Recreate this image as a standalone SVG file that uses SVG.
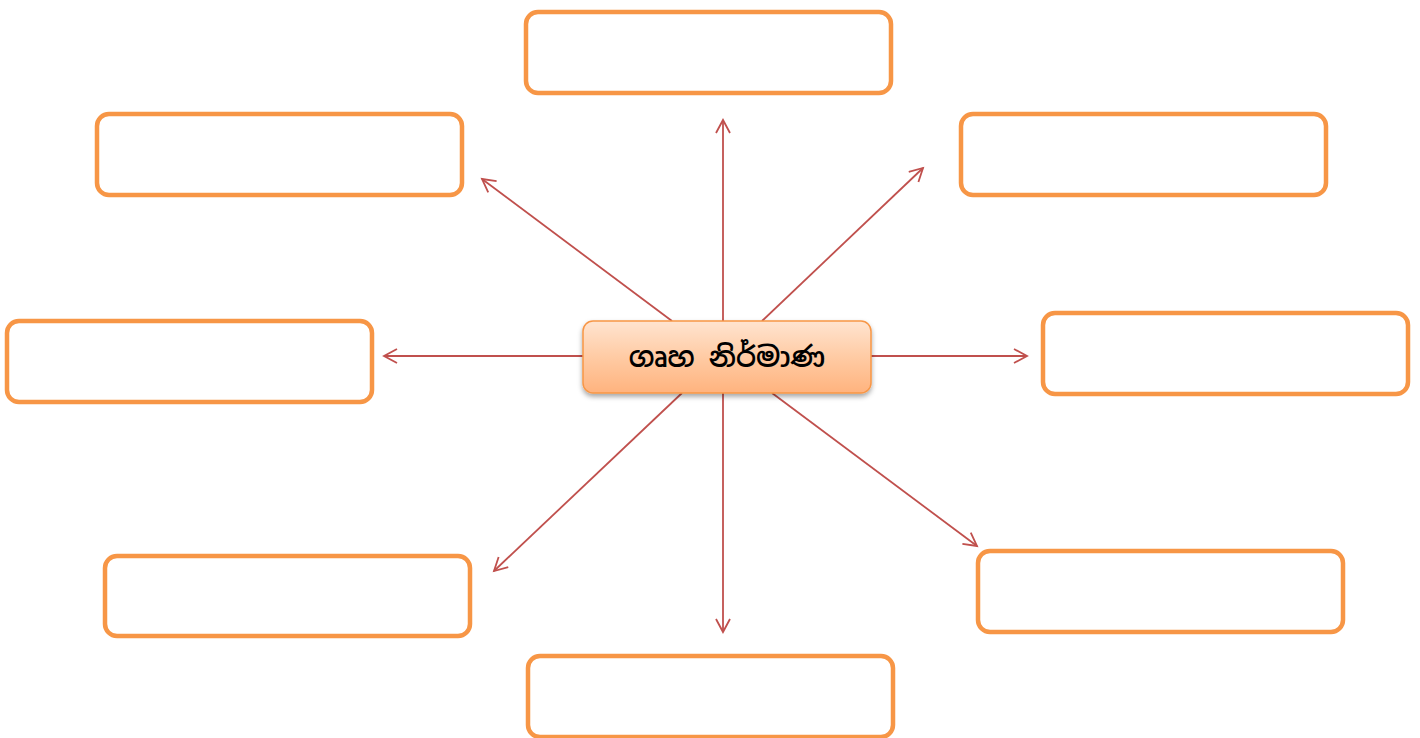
<svg xmlns="http://www.w3.org/2000/svg" width="1420" height="738" viewBox="0 0 1420 738">
<defs>
<style>
.box{fill:#fff;stroke:#F79646;stroke-width:4.5}
.con{stroke:#C0504D;stroke-width:1.8;fill:none;marker-end:url(#arr)}
.lbl{font-family:"Noto Sans Sinhala","Iskoola Pota","Noto Serif Sinhala","Noto Sans","DejaVu Sans",sans-serif;font-size:28px;font-weight:600;fill:#000;text-anchor:middle}
</style>
<marker id="arr" markerWidth="18" markerHeight="18" refX="14" refY="8" orient="auto" markerUnits="userSpaceOnUse">
<path d="M1,1 L14,8 L1,15" fill="none" stroke="#C0504D" stroke-width="1.8"/>
</marker>
<linearGradient id="cg" x1="0" y1="0" x2="0" y2="1">
<stop offset="0" stop-color="#FFE4D0"/>
<stop offset="0.5" stop-color="#FFCBA4"/>
<stop offset="1" stop-color="#FFB37E"/>
</linearGradient>
<filter id="sh" x="-10%" y="-20%" width="120%" height="150%">
<feDropShadow dx="0" dy="3" stdDeviation="2.5" flood-color="#000" flood-opacity="0.35"/>
</filter>
</defs>
<rect width="1420" height="738" fill="#fff"/>
<g id="connectors">
<line class="con" x1="723" y1="322" x2="723" y2="120"/>
<line class="con" x1="723" y1="392" x2="723" y2="632"/>
<line class="con" x1="584" y1="356" x2="384" y2="356"/>
<line class="con" x1="870" y1="356" x2="1027" y2="356"/>
<line class="con" x1="672" y1="321" x2="482" y2="179"/>
<line class="con" x1="762" y1="321" x2="923" y2="168"/>
<line class="con" x1="682" y1="393" x2="494" y2="571"/>
<line class="con" x1="772" y1="393" x2="977" y2="546"/>
</g>
<g id="center">
<rect x="583" y="321" width="288" height="72" rx="10" fill="url(#cg)" stroke="#F79646" stroke-width="1.5" filter="url(#sh)"/>
<text class="lbl" x="727" y="367">ගෘහ නිර්මාණ</text>
</g>
<g id="box-top"><rect class="box" x="526" y="12" width="365" height="81" rx="12"/></g>
<g id="box-top-left"><rect class="box" x="97" y="114" width="365" height="81" rx="12"/></g>
<g id="box-top-right"><rect class="box" x="961" y="114" width="365" height="81" rx="12"/></g>
<g id="box-left"><rect class="box" x="7" y="321" width="365" height="81" rx="12"/></g>
<g id="box-right"><rect class="box" x="1043" y="313" width="365" height="81" rx="12"/></g>
<g id="box-bottom-left"><rect class="box" x="105" y="556" width="365" height="80" rx="12"/></g>
<g id="box-bottom-right"><rect class="box" x="978" y="551" width="365" height="81" rx="12"/></g>
<g id="box-bottom"><rect class="box" x="528" y="656" width="365" height="81" rx="12"/></g>
</svg>
